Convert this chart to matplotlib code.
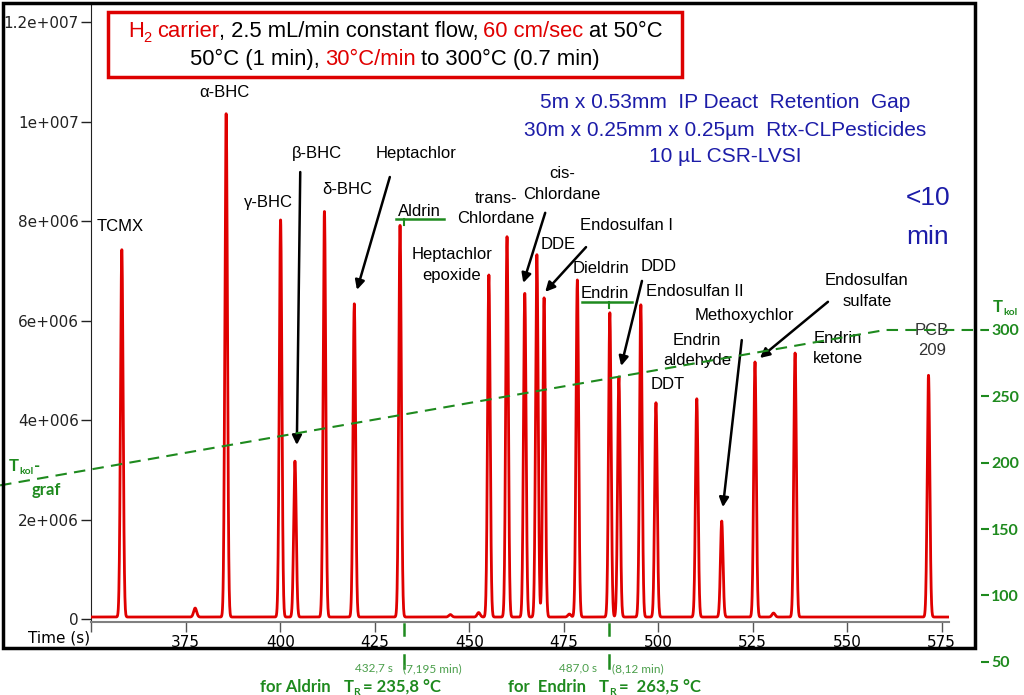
import numpy as np
import matplotlib
matplotlib.use("Agg")
import matplotlib.pyplot as plt
from matplotlib.patches import Rectangle
from matplotlib.transforms import blended_transform_factory

# --- data ---
peak_names = ["TCMX", "a-BHC", "g-BHC", "b-BHC", "d-BHC", "Heptachlor", "Aldrin",
              "Heptachlor epoxide", "trans-Chlordane", "cis-Chlordane", "DDE",
              "Endosulfan I", "Dieldrin", "Endrin", "DDD", "Endosulfan II", "DDT",
              "Endrin aldehyde", "Methoxychlor", "Endosulfan sulfate", "Endrin ketone",
              "PCB 209"]
peak_times = [358.1, 385.7, 400.1, 403.9, 411.7, 419.6, 431.7, 455.2, 460.0, 464.7,
              467.9, 469.8, 478.6, 487.2, 489.6, 495.4, 499.4, 510.2, 516.8, 525.6,
              536.2, 571.5]
peak_heights = [7.40, 10.14, 8.00, 3.14, 8.17, 6.30, 7.89, 6.88, 7.65, 6.52, 7.30,
                6.42, 6.78, 6.12, 4.83, 6.28, 4.31, 4.39, 1.93, 5.13, 5.31, 4.87]  # x1e6
minor_times = [377.5, 445.0, 452.5, 476.5, 530.5]
minor_heights = [0.18, 0.05, 0.09, 0.06, 0.08]
baseline_level = 0.04

temp_times = [325.9, 560.0, 586.5]
temp_values = [182.9, 300.0, 300.0]
temp_ticks = [50, 100, 150, 200, 250, 300]

y_ticks = [0, 2e6, 4e6, 6e6, 8e6, 10e6, 12e6]
y_ticklabels = ["0", "2e+006", "4e+006", "6e+006", "8e+006", "1e+007", "1.2e+007"]
x_ticks = [350, 375, 400, 425, 450, 475, 500, 525, 550, 575]
x_ticklabels = ["", "375", "400", "425", "450", "475", "500", "525", "550", "575"]

aldrin_rt, endrin_rt = 432.7, 487.0

W, H = 1024, 695
RED = "#e00000"
BLUE = "#1c1ca8"
GREEN = "#1e8a1e"
LGREEN = "#4a9e4a"


def fx(x):
    return x / W


def fy(y):
    return 1 - y / H


fig = plt.figure(figsize=(W / 100, H / 100), dpi=100)
fig.patch.set_facecolor("white")

# main chromatogram axes
ax = fig.add_axes([fx(91.2), fy(621.5), (949.3 - 91.2) / W, (621.5 - 4) / H])
ax.set_xlim(350, 577)
ax.set_ylim(-0.05e6, 12.37e6)

t = np.arange(350, 577, 0.04)
sig = np.full_like(t, baseline_level)
for tp, hp in zip(peak_times, peak_heights):
    sig += hp * np.exp(-0.5 * ((t - tp) / 0.34) ** 2)
for tp, hp in zip(minor_times, minor_heights):
    sig += hp * np.exp(-0.5 * ((t - tp) / 0.4) ** 2)
ax.plot(t, sig * 1e6, color=RED, lw=2.0, zorder=3)

for s in ["top", "right"]:
    ax.spines[s].set_visible(False)
ax.spines["left"].set_color("#222222")
ax.spines["bottom"].set_color("#808080")
ax.spines["bottom"].set_linewidth(1.5)
ax.set_yticks(y_ticks)
ax.set_yticklabels(y_ticklabels)
ax.set_xticks(x_ticks)
ax.set_xticklabels(x_ticklabels)
ax.tick_params(axis="y", direction="out", length=7, width=1, colors="#222222",
               labelsize=11, pad=2)
ax.tick_params(axis="x", direction="out", length=7, width=1, color="#555555",
               labelcolor="black", labelsize=11, pad=3)
fig.text(fx(90), fy(638), "Time (s)", ha="right", va="center", fontsize=11)

# compound labels (time, intensity x1e6)
labels = [
    ("TCMX", 357.6, 7.89), ("\u03b1-BHC", 385.1, 10.58), ("\u03b3-BHC", 396.8, 8.37),
    ("\u03b2-BHC", 409.7, 9.36), ("\u03b4-BHC", 417.7, 8.63), ("Heptachlor", 435.9, 9.36),
    ("Aldrin", 436.7, 8.19), ("Heptachlor\nepoxide", 445.4, 7.12),
    ("trans-\nChlordane", 457.1, 8.26), ("cis-\nChlordane", 474.6, 8.75),
    ("DDE", 473.5, 7.53), ("Endosulfan I", 491.5, 7.91), ("Dieldrin", 484.9, 7.04),
    ("Endrin", 485.9, 6.54), ("DDD", 500.2, 7.10), ("Endosulfan II", 509.7, 6.58),
    ("Methoxychlor", 522.9, 6.10), ("Endrin\naldehyde", 510.2, 5.40), ("DDT", 502.6, 4.71),
    ("Endosulfan\nsulfate", 555.2, 6.60), ("Endrin\nketone", 547.5, 5.44),
    ("PCB\n209", 572.4, 5.60),
]
for txt, lx, ly in labels:
    col = "#333333" if txt.startswith("PCB") else "black"
    ax.text(lx, ly * 1e6, txt, ha="center", va="center", fontsize=12,
            family="Liberation Sans", color=col, linespacing=1.45, zorder=4)

arrows = [
    ((405.3, 8.99), (404.4, 3.50)), ((429.0, 8.89), (420.3, 6.62)),
    ((470.1, 8.17), (464.3, 6.76)), ((480.9, 7.48), (470.1, 6.58)),
    ((495.7, 6.80), (490.2, 5.09)), ((522.1, 5.61), (517.1, 2.25)),
    ((544.9, 6.38), (526.9, 5.25)),
]
for (x0, y0), (x1, y1) in arrows:
    ax.annotate("", xy=(x1, y1 * 1e6), xytext=(x0, y0 * 1e6),
                arrowprops=dict(arrowstyle="-|>", color="black", lw=1.8,
                                mutation_scale=14, shrinkA=0, shrinkB=0), zorder=5)

# green underline markers for Aldrin / Endrin
tr = blended_transform_factory(ax.transData, ax.transAxes)
for rt, x0, x1, yl in [(aldrin_rt, 430.6, 443.3, 8.05), (endrin_rt, 479.9, 493.1, 6.38)]:
    ax.plot([x0, x1], [yl * 1e6, yl * 1e6], color=GREEN, lw=1.8, zorder=5)
    ax.plot([rt, rt], [yl * 1e6, (yl - 0.12) * 1e6], color=GREEN, lw=1.5, zorder=5)
    ax.plot([rt, rt], [-0.004, -0.022], color=GREEN, lw=1.8, transform=tr, clip_on=False)
    ax.plot([rt, rt], [-0.054, -0.076], color=GREEN, lw=1.8, transform=tr, clip_on=False)

# temperature axis spanning the whole figure
ax2 = fig.add_axes([0, 0, 981 / W, 1])
ax2.set_xlim(325.87, 325.87 + 981 / 3.78)
ax2.set_ylim(24.9, 548.7)
ax2.patch.set_visible(False)
for s in ["top", "left", "bottom", "right"]:
    ax2.spines[s].set_visible(False)
ax2.xaxis.set_visible(False)
ax2.yaxis.tick_right()
ax2.set_yticks(temp_ticks)
ax2.tick_params(axis="y", direction="out", length=6, width=1.5, color=GREEN,
                labelcolor=GREEN, labelsize=11.5, pad=1.5)
for lab in ax2.get_yticklabels():
    lab.set_fontweight("bold")
    lab.set_family("Lato")
ax2.plot(temp_times, temp_values, color=GREEN, lw=1.5, ls=(0, (5.5, 3.5)), zorder=6)

# outer frame
fig.patches.append(Rectangle((fx(3), fy(648)), (975 - 3) / W, (648 - 3) / H,
                             transform=fig.transFigure, fill=False, lw=2.5,
                             edgecolor="black"))

rend = fig.canvas.get_renderer()


def runs(x, y, parts, align="center"):
    # parts: (text, color, size, weight, family, dy_px, gap_px)
    objs = []
    for s, col, size, wt, fam, dy, gap in parts:
        tx = fig.text(0, 0, s, color=col, fontsize=size, fontweight=wt, family=fam,
                      ha="left", va="baseline")
        objs.append((tx, dy, gap))
    widths = [o[0].get_window_extent(rend).width + o[2] for o in objs]
    total = sum(widths)
    x0 = {"center": x - total / 2, "right": x - total, "left": x}[align]
    for (tx, dy, gap), w in zip(objs, widths):
        tx.set_position((fx(x0 + gap), fy(y + dy)))
        x0 += w


LS = "Liberation Sans"
# condition box
fig.patches.append(Rectangle((fx(108), fy(77)), (682 - 108) / W, (77 - 12) / H,
                             transform=fig.transFigure, fill=False, lw=2.5,
                             edgecolor="#dd0000"))
runs(395, 37, [("H", RED, 15.8, "normal", LS, 0, 0),
               ("2", RED, 10.5, "normal", LS, 5, 0),
               ("carrier", RED, 15.8, "normal", LS, 0, 5),
               (", 2.5 mL/min constant flow,", "black", 15.8, "normal", LS, 0, 0),
               ("60 cm/sec", RED, 15.8, "normal", LS, 0, 5),
               ("at 50\u00b0C", "black", 15.8, "normal", LS, 0, 5)])
runs(395, 65, [("50\u00b0C (1 min),", "black", 15.8, "normal", LS, 0, 0),
               ("30\u00b0C/min", RED, 15.8, "normal", LS, 0, 5),
               ("to 300\u00b0C (0.7 min)", "black", 15.8, "normal", LS, 0, 5)])

# column description
for yy, s in [(103, "5m x 0.53mm  IP Deact  Retention  Gap"),
              (130, "30m x 0.25mm x 0.25\u00b5m  Rtx-CLPesticides"),
              (157, "10 \u00b5L CSR-LVSI")]:
    fig.text(fx(725), fy(yy), s, ha="center", va="center", fontsize=15,
             family=LS, color=BLUE)
fig.text(fx(950), fy(198), "<10", ha="right", va="center", fontsize=19, family=LS, color=BLUE)
fig.text(fx(949), fy(237), "min", ha="right", va="center", fontsize=19, family=LS, color=BLUE)

# temperature labels
runs(993, 312, [("T", GREEN, 12, "bold", "Lato", 0, 0),
                ("kol", GREEN, 7.5, "bold", "Lato", 3, 0)], align="left")
runs(9, 471, [("T", GREEN, 12, "bold", "Lato", 0, 0),
              ("kol", GREEN, 7.5, "bold", "Lato", 3, 0),
              ("-", GREEN, 12, "bold", "Lato", 0, 1)], align="left")
fig.text(fx(32), fy(495), "graf", ha="left", va="baseline", fontsize=12,
         fontweight="bold", family="Lato", color=GREEN)

# retention notes below the axis
runs(393, 671, [("432,7 s", LGREEN, 8.5, "normal", "Lato", 0, 0)], align="right")
runs(403, 672, [("(7,195 min)", LGREEN, 8.5, "normal", "Lato", 0, 0)], align="left")
runs(260, 692, [("for Aldrin", GREEN, 12, "bold", "Lato", 0, 0),
                ("T", GREEN, 12, "bold", "Lato", 0, 13),
                ("R", GREEN, 7.5, "bold", "Lato", 3, 0),
                ("= 235,8 \u00b0C", GREEN, 12, "bold", "Lato", 0, 3)], align="left")
runs(597, 671, [("487,0 s", LGREEN, 8.5, "normal", "Lato", 0, 0)], align="right")
runs(612, 672, [("(8,12 min)", LGREEN, 8.5, "normal", "Lato", 0, 0)], align="left")
runs(508, 692, [("for  Endrin", GREEN, 12, "bold", "Lato", 0, 0),
                ("T", GREEN, 12, "bold", "Lato", 0, 13),
                ("R", GREEN, 7.5, "bold", "Lato", 3, 0),
                ("=  263,5 \u00b0C", GREEN, 12, "bold", "Lato", 0, 3)], align="left")

fig.savefig("out.png", dpi=100, facecolor="white")
